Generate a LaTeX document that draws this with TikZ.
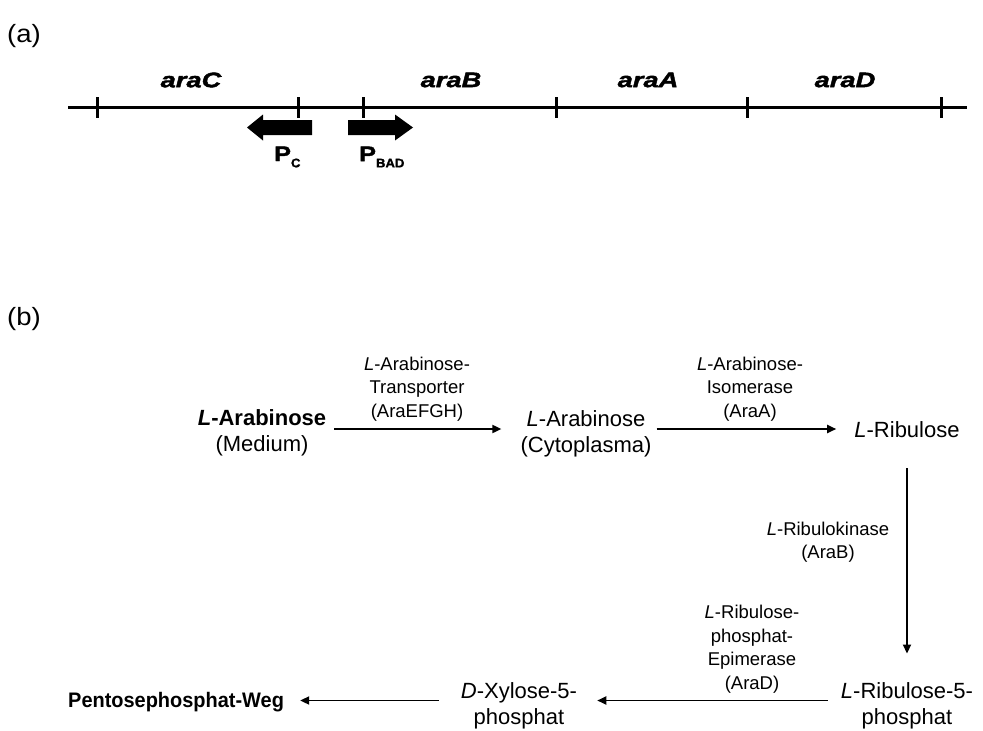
\documentclass[tikz,border=0pt]{standalone}
\usepackage{fontspec}
\setmainfont{Liberation Sans}
\newfontfamily\genefont{Liberation Sans}[FakeStretch=1.3,FakeBold=2]
\newfontfamily\promfont{Liberation Sans}[FakeStretch=1.2,FakeBold=2]
\newfontfamily\subfont{Liberation Sans}[FakeStretch=1.05,FakeBold=1.5]
\usetikzlibrary{arrows.meta}
\tikzset{
  panel/.style={font=\fontsize{25}{28}\selectfont\addfontfeature{FakeStretch=1.1}, anchor=west, inner sep=0pt},
  gene/.style={font=\genefont\bfseries\itshape\fontsize{21}{24}\selectfont, inner sep=0pt},
  prom/.style={font=\promfont\bfseries\fontsize{21}{24}\selectfont, anchor=west, inner sep=0pt},
  dna/.style={line width=3.5pt},
  tick/.style={line width=3pt},
  promarrow/.style={fill=black, draw=none},
  metab/.style={font=\fontsize{22}{26}\selectfont, align=center, inner sep=0pt},
  enz/.style={font=\fontsize{18.5}{23.5}\selectfont, align=center, inner sep=0pt},
  conn/.style={line width=1.8pt, -{Triangle[length=9pt,width=8pt]}},
}
\newcommand{\subtxt}[1]{\raisebox{-0.3em}{\subfont\bfseries\fontsize{12.5}{13}\selectfont #1}}
\begin{document}
\begin{tikzpicture}[x=1pt,y=1pt]
\useasboundingbox (0,0) rectangle (983,-731);

% panel labels
\node[panel] (pa) at (7,-36) {(a)};
\node[panel] (pb) at (7,-319) {(b)};

% ara operon map
\draw[dna] (68,-107.5) -- (967,-107.5);
\foreach \x in {97,298,363,556,747,941}
  \draw[tick] (\x,-97) -- (\x,-118);
\node[gene] (gC) at (191,-80) {araC};
\node[gene] (gB) at (451,-80) {araB};
\node[gene] (gA) at (648,-80) {araA};
\node[gene] (gD) at (845,-80) {araD};

% promoters
\fill[promarrow] (312,-120) -- (263,-120) -- (263,-114.5) -- (247,-127.5)
  -- (263,-140.5) -- (263,-135) -- (312,-135) -- cycle;
\fill[promarrow] (348,-120) -- (395,-120) -- (395,-114.5) -- (413,-127.5)
  -- (395,-140.5) -- (395,-135) -- (348,-135) -- cycle;
\node[prom] (pC) at (274,-157) {P\subtxt{C}};
\node[prom] (pBAD) at (359,-157) {P\subtxt{BAD}};

% pathway
\node[metab] (araM) at (262,-433) {\textbf{\textit{L}-Arabinose}\\(Medium)};
\node[metab] (araC) at (586,-434) {\textit{L}-Arabinose\\(Cytoplasma)};
\node[metab] (rib) at (907,-430) {\textit{L}-Ribulose};
\node[metab] (rib5p) at (907,-706) {\textit{L}-Ribulose-5-\\phosphat};
\node[metab] (xyl5p) at (519,-706) {\textit{D}-Xylose-5-\\phosphat};
\node[metab, anchor=west, font=\bfseries\fontsize{21}{24}\selectfont\addfontfeature{FakeStretch=0.95}] (ppw) at (68,-702) {Pentosephosphat-Weg};

\node[enz] (e1) at (417,-389) {\textit{L}-Arabinose-\\Transporter\\(AraEFGH)};
\node[enz] (e2) at (750,-389) {\textit{L}-Arabinose-\\Isomerase\\(AraA)};
\node[enz] (e3) at (828,-542) {\textit{L}-Ribulokinase\\(AraB)};
\node[enz] (e4) at (752,-649) {\textit{L}-Ribulose-\\phosphat-\\Epimerase\\(AraD)};

\coordinate (row1) at (0,-429);
\coordinate (row3) at (0,-700.5);

\draw[conn] (araM.east |- row1) ++(8,0) -- ([xshift=-19pt]araC.west |- row1);
\draw[conn] ([xshift=5pt]araC.east |- row1) -- ([xshift=-18pt]rib.west |- row1);
\draw[conn] ([yshift=-30pt]rib.south) -- ([yshift=29pt]rib5p.north);
\draw[conn] ([xshift=-13pt]rib5p.west |- row3) -- ([xshift=20pt]xyl5p.east |- row3);
\draw[conn] ([xshift=-22pt]xyl5p.west |- row3) -- ([xshift=16pt]ppw.east |- row3);
\end{tikzpicture}
\end{document}
